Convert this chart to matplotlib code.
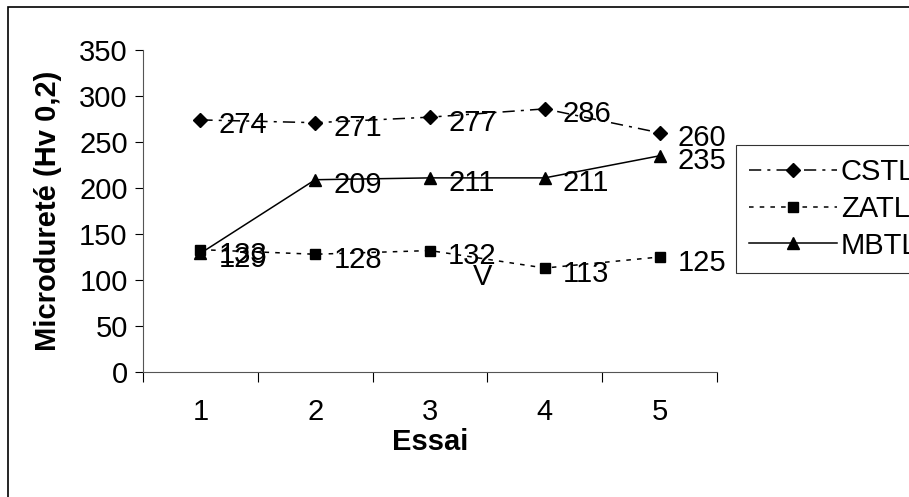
import matplotlib.pyplot as plt
from matplotlib.patches import Rectangle

# ---------------- DATA ----------------
essais = [1, 2, 3, 4, 5]
cstl = [274, 271, 277, 286, 260]
zatl = [133, 128, 132, 113, 125]
mbtl = [129, 209, 211, 211, 235]
y_ticks = [0, 50, 100, 150, 200, 250, 300, 350]

plt.rcParams['font.family'] = ['Liberation Sans', 'DejaVu Sans']
FS = 21

W, H = 909, 497
fig = plt.figure(figsize=(W / 100, H / 100), dpi=100)
ax = fig.add_axes([143 / W, 1 - 372 / H, (717 - 143) / W, (372 - 50) / H])

series = [
    ("CSTL", cstl, (0, (8, 4, 2, 4)), "D", 7),
    ("ZATL", zatl, (0, (3, 4)), "s", 7.5),
    ("MBTL", mbtl, "-", "^", 9),
]
for name, vals, ls, mk, ms in series:
    ax.plot(essais, vals, color="black", linestyle=ls, linewidth=1.1,
            marker=mk, markersize=ms, markerfacecolor="black",
            markeredgecolor="black", label=name)
    for x, v in zip(essais, vals):
        ax.annotate(str(v), (x, v), xytext=(13, -4), textcoords="offset points",
                    ha="left", va="center", fontsize=FS)

# stray character from the original sheet
ax.text(3.46, 103, "V", ha="center", va="center", fontsize=FS)

ax.set_xlim(0.5, 5.5)
ax.set_ylim(0, 350)
ax.set_yticks(y_ticks)
ax.tick_params(axis="y", direction="out", length=6, width=0.8, pad=5, labelsize=FS)
ax.set_xticks([0.5, 1.5, 2.5, 3.5, 4.5, 5.5])
ax.set_xticklabels([])
ax.set_xticks(essais, minor=True)
ax.set_xticklabels([str(e) for e in essais], minor=True)
ax.tick_params(axis="x", which="major", direction="out", length=7, width=0.8)
ax.tick_params(axis="x", which="minor", length=0, pad=19, labelsize=FS)

for s in ["top", "right"]:
    ax.spines[s].set_visible(False)
for s in ["left", "bottom"]:
    ax.spines[s].set_linewidth(0.8)
    ax.spines[s].set_color("#555555")

ax.set_ylabel("Microdureté (Hv 0,2)", fontsize=FS, fontweight="bold", labelpad=12)
ax.set_xlabel("Essai", fontsize=FS, fontweight="bold", labelpad=1)

leg = fig.legend(loc="upper left", bbox_to_anchor=(736 / W, 1 - 145 / H),
                 fontsize=FS, frameon=True, fancybox=False, handlelength=3.0,
                 handletextpad=0.15, labelspacing=0.3, borderpad=0.45,
                 borderaxespad=0)
leg.get_frame().set_edgecolor("black")
leg.get_frame().set_linewidth(0.8)

# outer chart frame (clipped at right and bottom like the original)
fig.patches.append(Rectangle((8 / W, -0.1), 1.2, 1.1 - 7 / H, transform=fig.transFigure,
                             fill=False, edgecolor="black", linewidth=1.2))

fig.savefig("out.png", dpi=100)
